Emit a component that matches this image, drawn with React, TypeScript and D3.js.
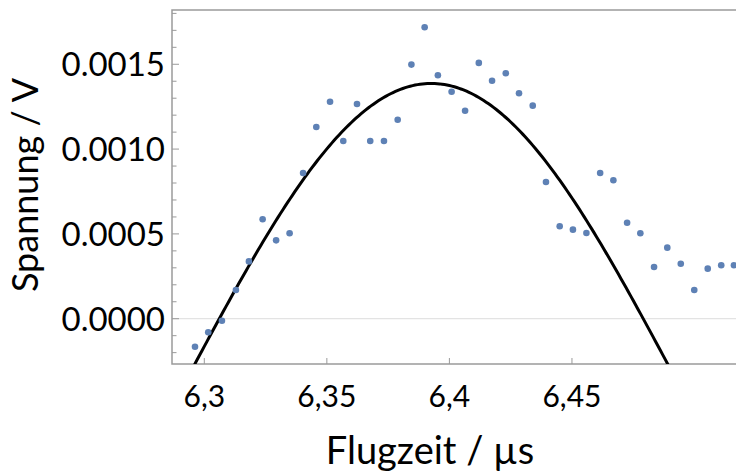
import React, { useEffect, useRef } from 'react';
import * as d3 from 'd3';

// measured points (Flugzeit in µs, Spannung in V)
const flugzeit = [
  6.2962, 6.3016, 6.3072, 6.3129, 6.3182, 6.3238, 6.3293, 6.3348, 6.3403, 6.3457,
  6.3513, 6.3567, 6.3623, 6.3677, 6.3733, 6.3789, 6.3845, 6.3899, 6.3953, 6.4009,
  6.4064, 6.4120, 6.4174, 6.4230, 6.4284, 6.4340, 6.4394, 6.4450, 6.4504, 6.4559,
  6.4615, 6.4669, 6.4725, 6.4779, 6.4835, 6.4889, 6.4944, 6.4999, 6.5054, 6.5109,
  6.5161,
];
const spannung = [
  -0.000165, -0.000080, -0.000012, 0.000169, 0.000338, 0.000586, 0.000462, 0.000504, 0.000859, 0.001130,
  0.001279, 0.001048, 0.001266, 0.001048, 0.001048, 0.001173, 0.001498, 0.001718, 0.001435, 0.001338,
  0.001226, 0.001508, 0.001403, 0.001447, 0.001329, 0.001256, 0.000806, 0.000545, 0.000525, 0.000505,
  0.000859, 0.000816, 0.000566, 0.000504, 0.000305, 0.000419, 0.000324, 0.000169, 0.000295, 0.000315,
  0.000315,
];

// fitted curve (gaussian with offset)
const fitCenter = 6.3926;
const fitSigma = 0.1;
const fitAmp = 0.004446;
const fitOffset = -0.003059;

const xTicks = [6.3, 6.35, 6.4, 6.45];
const xTickLabels = ['6,3', '6,35', '6,4', '6,45'];
const yTicks = [0, 0.0005, 0.001, 0.0015];
const yTickLabels = ['0.0000', '0.0005', '0.0010', '0.0015'];

const W = 736;
const H = 475;

const App = () => {
  const ref = useRef<SVGSVGElement>(null);

  useEffect(() => {
    const svg = d3.select(ref.current);
    svg.selectAll('*').remove();

    const left = 172, right = 736, top = 10, bottom = 364;
    const x = d3.scaleLinear().domain([6.28682, 6.51693]).range([left, right]);
    const y = d3.scaleLinear().domain([-0.000267, 0.00182]).range([bottom, top]);

    svg.append('defs').append('clipPath').attr('id', 'plot')
      .append('rect')
      .attr('x', left).attr('y', top)
      .attr('width', right - left).attr('height', bottom - top);

    // zero grid line
    svg.append('line')
      .attr('x1', left).attr('x2', right)
      .attr('y1', y(0)).attr('y2', y(0))
      .attr('stroke', '#e3e3e3').attr('stroke-width', 1.2);

    // frame
    const axisColor = '#9a9a9a';
    svg.append('path')
      .attr('d', `M${right},${top}H${left}V${bottom}H${right}`)
      .attr('fill', 'none').attr('stroke', axisColor).attr('stroke-width', 1.5);

    // y ticks (minor every 0.0001)
    const minor = d3.range(-2, 19).map((i) => i * 0.0001);
    svg.append('g').selectAll('line').data(minor).enter().append('line')
      .attr('x1', left)
      .attr('x2', (d, i) => left + ((i - 2) % 5 === 0 ? 7 : 4.5))
      .attr('y1', (d) => y(d)).attr('y2', (d) => y(d))
      .attr('stroke', axisColor).attr('stroke-width', 1);

    svg.append('g').selectAll('text').data(yTicks).enter().append('text')
      .attr('x', left - 7)
      .attr('y', (d) => y(d))
      .attr('dy', '0.36em')
      .attr('text-anchor', 'end')
      .style('font-family', 'Lato, sans-serif')
      .style('font-size', '33px')
      .attr('fill', '#000')
      .text((d, i) => yTickLabels[i]);

    // x ticks
    svg.append('g').selectAll('line').data(xTicks).enter().append('line')
      .attr('x1', (d) => x(d)).attr('x2', (d) => x(d))
      .attr('y1', bottom).attr('y2', bottom - 6)
      .attr('stroke', axisColor).attr('stroke-width', 1);

    svg.append('g').selectAll('text').data(xTicks).enter().append('text')
      .attr('x', (d) => x(d))
      .attr('y', 407)
      .attr('text-anchor', 'middle')
      .style('font-family', 'Lato, sans-serif')
      .style('font-size', '30px')
      .attr('fill', '#000')
      .text((d, i) => xTickLabels[i]);

    // axis titles
    svg.append('text')
      .attr('x', 430).attr('y', 464)
      .attr('text-anchor', 'middle')
      .style('font-family', 'Lato, sans-serif')
      .style('font-size', '38px')
      .attr('fill', '#000')
      .text('Flugzeit / µs');

    svg.append('text')
      .attr('transform', 'translate(38,185) rotate(-90)')
      .attr('text-anchor', 'middle')
      .style('font-family', 'Lato, sans-serif')
      .style('font-size', '36px')
      .attr('fill', '#000')
      .text('Spannung / V');

    const plot = svg.append('g').attr('clip-path', 'url(#plot)');

    // fit curve
    const fit = (t: number) => fitOffset + fitAmp * Math.exp(-((t - fitCenter) ** 2) / (2 * fitSigma * fitSigma));
    const xs = d3.range(6.28, 6.52, 0.001);
    const line = d3.line<number>().x((t) => x(t)).y((t) => y(fit(t)));
    plot.append('path')
      .attr('d', line(xs))
      .attr('fill', 'none')
      .attr('stroke', '#000')
      .attr('stroke-width', 3);

    // points
    plot.selectAll('circle').data(flugzeit).enter().append('circle')
      .attr('cx', (d) => x(d))
      .attr('cy', (d, i) => y(spannung[i]))
      .attr('r', 3.3)
      .attr('fill', '#5e81b5');
  }, []);

  return (
    <svg ref={ref} width={W} height={H} style={{ position: 'absolute', left: 0, top: 0, background: '#fff' }} />
  );
};

export default App;
